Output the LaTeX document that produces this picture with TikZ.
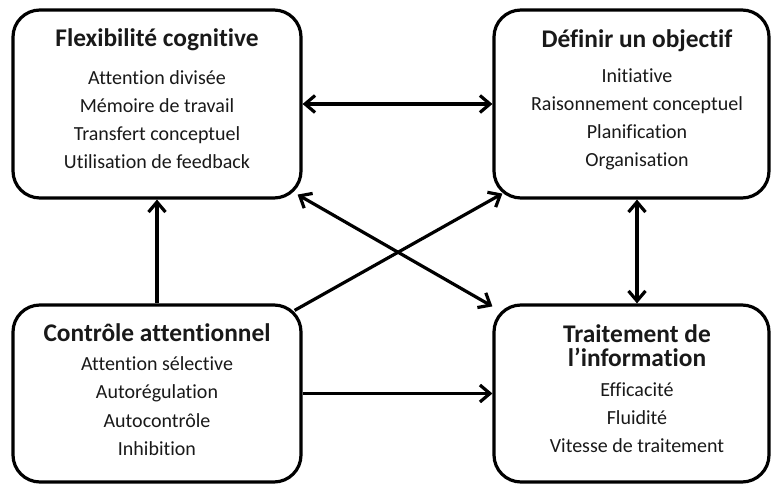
\documentclass[tikz,border=0pt]{standalone}
\usepackage{fontspec}
\setmainfont{Carlito}[Ligatures=NoCommon]
\usetikzlibrary{arrows.meta,calc}

\tikzset{
  box/.style={draw=black, line width=3.2pt, rounded corners=27pt, inner sep=0pt},
  heading/.style={anchor=base, inner sep=0pt, font=\bfseries\fontsize{25.4}{28}\selectfont, text=black!90},
  entry/.style={anchor=base, inner sep=0pt, font=\fontsize{20}{28}\selectfont, text=black!90},
  link/.style={line width=3.2pt, draw=black},
  tip/.style={-{Straight Barb[length=10pt,width=17pt]}},
  tips/.style={{Straight Barb[length=10pt,width=17pt]}-{Straight Barb[length=10pt,width=17pt]}}
}

\begin{document}
\begin{tikzpicture}[x=1pt,y=1pt]
  \useasboundingbox (0,0) rectangle (771,484);
  \fill[white] (0,0) rectangle (771,484);

  % the four boxes
  \node[box, minimum width=288pt, minimum height=188pt] (flex) at (157,380) {};
  \node[box, minimum width=275pt, minimum height=188pt] (obj)  at (631.5,380) {};
  \node[box, minimum width=288pt, minimum height=177pt] (ctrl) at (157,90.5) {};
  \node[box, minimum width=275pt, minimum height=177pt] (info) at (631.5,90.5) {};

  % Flexibilité cognitive
  \node[heading] (flexT) at (157,437) {Flexibilité cognitive};
  \foreach \t/\y [count=\i] in {Attention divisée/399, Mémoire de travail/371,
      Transfert conceptuel/343, Utilisation de feedback/315}
    \node[entry] (flex\i) at (157,\y) {\t};

  % Définir un objectif
  \node[heading] (objT) at (637,436) {Définir un objectif};
  \foreach \t/\y [count=\i] in {Initiative/401, Raisonnement conceptuel/373,
      Planification/345, Organisation/317}
    \node[entry] (obj\i) at (637,\y) {\t};

  % Contrôle attentionnel
  \node[heading] (ctrlT) at (157,142) {Contrôle attentionnel};
  \foreach \t/\y [count=\i] in {Attention sélective/113, Autorégulation/85,
      Autocontrôle/56, Inhibition/28}
    \node[entry] (ctrl\i) at (157,\y) {\t};

  % Traitement de l'information
  \node[heading] (infoT1) at (637,141) {Traitement de};
  \node[heading] (infoT2) at (637,117) {l’information};
  \foreach \t/\y [count=\i] in {Efficacité/87, Fluidité/59,
      Vitesse de traitement/31}
    \node[entry] (info\i) at (637,\y) {\t};

  % connectors
  \draw[link, tips] (flex.east) -- (obj.west);
  \draw[link, tip] (ctrl.north) -- (flex.south);
  \draw[link, tips] ($(obj.south)+(5.5,0)$) -- ($(info.north)+(5.5,0)$);
  \draw[link, tip] (ctrl.east) -- (info.west);
  \draw[link, tips] ($(flex.south east)+(-5,5)$) -- ($(info.north west)+(0,-3)$);
  \draw[link, tip] ($(ctrl.north east)+(-8,-7)$) -- ($(obj.south west)+(10,6)$);
\end{tikzpicture}
\end{document}
